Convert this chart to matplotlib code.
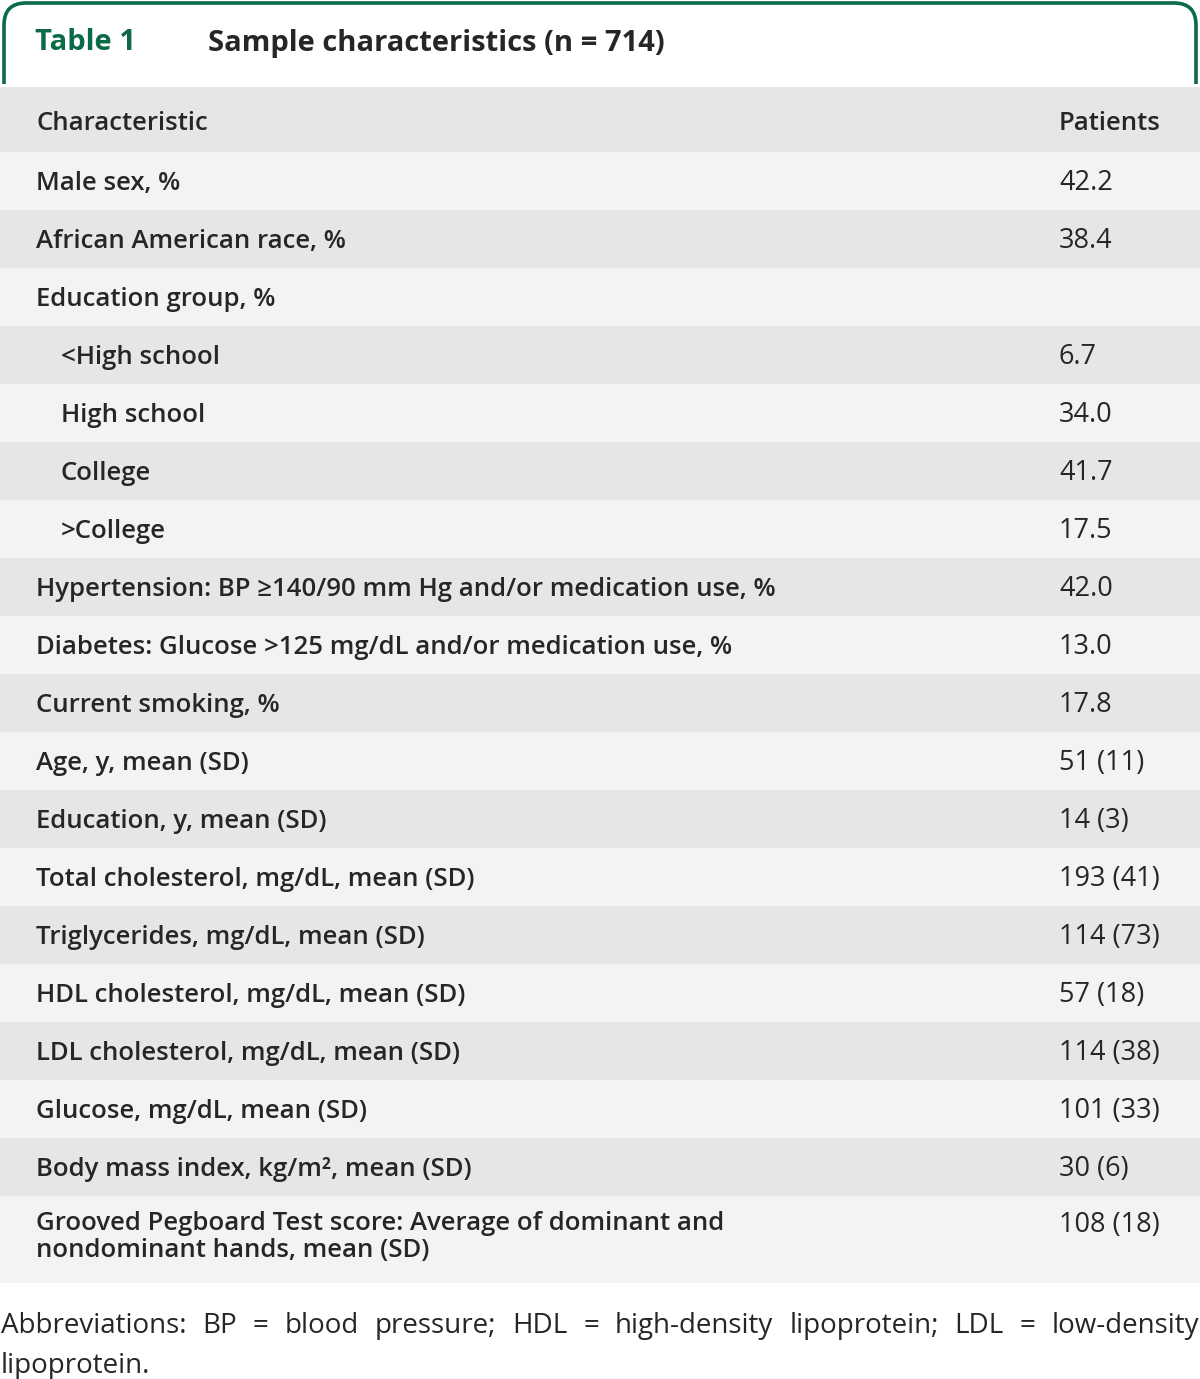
import matplotlib.pyplot as plt
from matplotlib.patches import Rectangle, FancyBboxPatch

plt.rcParams['font.family'] = ['Open Sans', 'DejaVu Sans']

# table content
characteristics = [
    "Male sex, %",
    "African American race, %",
    "Education group, %",
    "<High school",
    "High school",
    "College",
    ">College",
    "Hypertension: BP \u2265140/90 mm Hg and/or medication use, %",
    "Diabetes: Glucose >125 mg/dL and/or medication use, %",
    "Current smoking, %",
    "Age, y, mean (SD)",
    "Education, y, mean (SD)",
    "Total cholesterol, mg/dL, mean (SD)",
    "Triglycerides, mg/dL, mean (SD)",
    "HDL cholesterol, mg/dL, mean (SD)",
    "LDL cholesterol, mg/dL, mean (SD)",
    "Glucose, mg/dL, mean (SD)",
    "Body mass index, kg/m\u00b2, mean (SD)",
    "Grooved Pegboard Test score: Average of dominant and\nnondominant hands, mean (SD)",
]
patients = ["42.2", "38.4", "", "6.7", "34.0", "41.7", "17.5", "42.0", "13.0",
            "17.8", "51 (11)", "14 (3)", "193 (41)", "114 (73)", "57 (18)",
            "114 (38)", "101 (33)", "30 (6)", "108 (18)"]
sublevel = [0, 0, 0, 1, 1, 1, 1, 0, 0, 0, 0, 0, 0, 0, 0, 0, 0, 0, 0]

table_label = "Table 1"
table_title = "Sample characteristics (n = 714)"
col_headers = ["Characteristic", "Patients"]
footnote_line1 = ("Abbreviations: BP = blood pressure; HDL = high-density "
                  "lipoprotein; LDL = low-density")
footnote_line2 = "lipoprotein."

W, H = 1200, 1379
fig = plt.figure(figsize=(W / 100, H / 100), dpi=100)
ax = fig.add_axes([0, 0, 1, 1])
ax.set_xlim(0, W)
ax.set_ylim(H, 0)
ax.axis('off')

green = '#0b6b46'
dark = '#262626'
shade_dark = '#e6e6e6'
shade_light = '#f2f3f3'
fs = 18.5
fs_val = 19.5
wt = 'semibold'

# green rounded frame around the title
frame = FancyBboxPatch((4, 3), W - 8, 160, boxstyle="round,pad=0,rounding_size=22",
                       fc='white', ec=green, lw=2.6, zorder=1)
ax.add_patch(frame)
ax.add_patch(Rectangle((0, 84), W, 200, fc='white', ec='none', zorder=1.5))
ax.text(35, 43, table_label, color=green, fontsize=21, fontweight='bold', va='center', zorder=3)
ax.text(208, 43, table_title, color=dark, fontsize=21, fontweight='bold', va='center', zorder=3)

# header row
top = 87
ax.add_patch(Rectangle((0, top), W, 65, fc=shade_dark, ec='none', zorder=2))
ax.text(36, top + 36, col_headers[0], color=dark, fontsize=fs, fontweight=wt, va='center', zorder=3)
ax.text(1059, top + 36, col_headers[1], color=dark, fontsize=fs, fontweight=wt, va='center', zorder=3)

y = top + 65
row_h = 58
for i, (lab, val) in enumerate(zip(characteristics, patients)):
    h = row_h if '\n' not in lab else 87
    color = shade_light if i % 2 == 0 else shade_dark
    ax.add_patch(Rectangle((0, y), W, h, fc=color, ec='none', zorder=2))
    x = 36 + 25 * sublevel[i]
    if '\n' in lab:
        ax.text(x, y + 15, lab, color=dark, fontsize=fs, fontweight=wt, va='top',
                linespacing=1.12, zorder=3)
        ax.text(1059, y + 15, val, color=dark, fontsize=fs_val, va='top', zorder=3)
    else:
        ax.text(x, y + row_h / 2 + 2.5, lab, color=dark, fontsize=fs, fontweight=wt,
                va='center', zorder=3)
        ax.text(1059, y + row_h / 2 + 2, val, color=dark, fontsize=fs_val, va='center', zorder=3)
    y += h

# justified footnote
fig.canvas.draw()
renderer = fig.canvas.get_renderer()
words = footnote_line1.split(' ')
objs = []
total = 0
for w in words:
    t = ax.text(0, 1326, w, fontsize=20, color=dark, va='center', zorder=3)
    bb = t.get_window_extent(renderer)
    objs.append((t, bb.width))
    total += bb.width
gap = (W - 2 - total) / (len(words) - 1)
xpos = 1
for t, wd in objs:
    t.set_x(xpos)
    xpos += wd + gap
ax.text(1, 1366, footnote_line2, fontsize=20, color=dark, va='center', zorder=3)

fig.savefig('out.png', dpi=100)
